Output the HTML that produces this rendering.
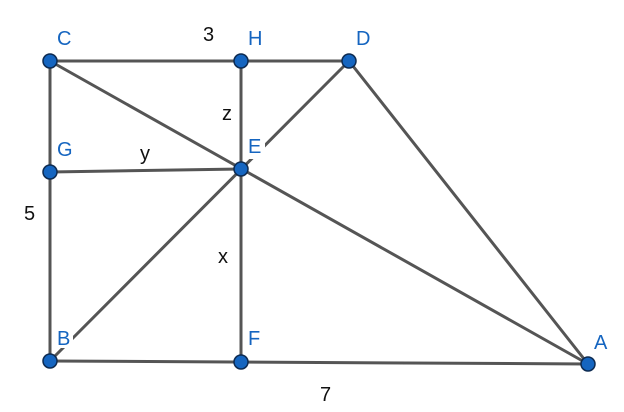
<!DOCTYPE html>
<html><head><style>html,body{margin:0;padding:0;background:#fff;}svg{display:block}</style></head>
<body>
<svg width="624" height="412" viewBox="0 0 624 412" xmlns="http://www.w3.org/2000/svg">
<g stroke="#555" stroke-width="3" stroke-linecap="round">
<line x1="50" y1="61" x2="349" y2="61"/>
<line x1="50" y1="61" x2="50" y2="361"/>
<line x1="50" y1="361" x2="588" y2="364"/>
<line x1="241" y1="61" x2="241" y2="362"/>
<line x1="50" y1="172" x2="241" y2="169"/>
<line x1="50" y1="61" x2="588" y2="364"/>
<line x1="50" y1="361" x2="349" y2="61"/>
<line x1="349" y1="61" x2="588" y2="364"/>
</g>
<g font-family="Liberation Sans, sans-serif" font-size="20">
<rect x="57" y="326" width="16" height="22" fill="#fff"/>
<rect x="247" y="135" width="18" height="24" fill="#fff"/>
<g fill="#1565c0">
<text x="57" y="45">C</text>
<text x="248" y="45">H</text>
<text x="356" y="45">D</text>
<text x="57" y="156">G</text>
<text x="248" y="153">E</text>
<text x="57" y="345">B</text>
<text x="248" y="345">F</text>
<text x="594" y="349">A</text>
</g>
<g fill="#111">
<text x="203" y="41">3</text>
<text x="222" y="120">z</text>
<text x="140" y="160">y</text>
<text x="24" y="220">5</text>
<text x="218" y="263">x</text>
<text x="320" y="401">7</text>
</g>
</g>
<g fill="#1565c0" stroke="#0d2a50" stroke-width="1.5">
<circle cx="50" cy="61" r="7"/>
<circle cx="241" cy="61" r="7"/>
<circle cx="349" cy="61" r="7"/>
<circle cx="50" cy="172" r="7"/>
<circle cx="241" cy="169" r="7"/>
<circle cx="50" cy="361" r="7"/>
<circle cx="241" cy="362" r="7"/>
<circle cx="588" cy="364" r="7"/>
</g>
</svg>
</body></html>
